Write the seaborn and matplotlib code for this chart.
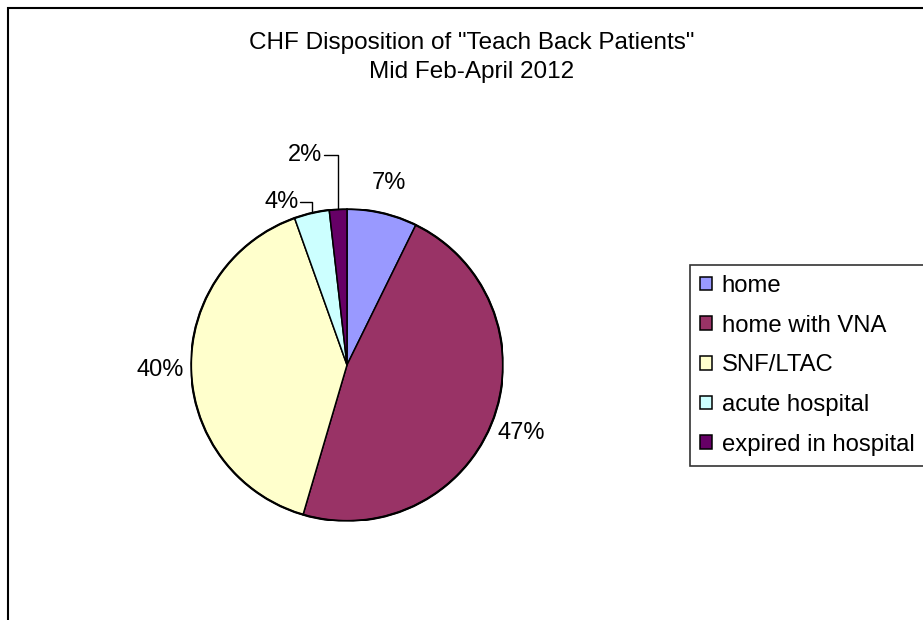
import matplotlib.pyplot as plt
import matplotlib.patches as mpatches
import seaborn as sns
import numpy as np

categories = ['home', 'home with VNA', 'SNF/LTAC', 'acute hospital', 'expired in hospital']
patients = [4, 26, 22, 2, 1]
pct_labels = ['7%', '47%', '40%', '4%', '2%']
colors = ['#9999FF', '#993366', '#FFFFCC', '#CCFFFF', '#660066']

sns.set_style('white')
plt.rcParams['font.family'] = ['Liberation Sans', 'DejaVu Sans']
plt.rcParams['text.color'] = 'black'

W, H = 923, 620
fig = plt.figure(figsize=(W / 100, H / 100), dpi=100)

# outer chart-area border (cropped on right and bottom)
fig.patches.append(mpatches.Rectangle((8 / W, -0.1), 1.2, 1.1 - 8 / H,
                                      transform=fig.transFigure, fill=False,
                                      edgecolor='black', linewidth=1.5))

fig.text(472 / W, 1 - 43 / H, 'CHF Disposition of "Teach Back Patients"',
         ha='center', va='center', fontsize=17.5)
fig.text(472 / W, 1 - 72 / H, 'Mid Feb-April 2012',
         ha='center', va='center', fontsize=17.5)

ax = fig.add_axes([191 / W, 1 - 521 / H, 312 / W, 312 / H])
wedges, _ = ax.pie(patients, colors=sns.color_palette(colors), startangle=90,
                   counterclock=False, radius=1,
                   wedgeprops=dict(edgecolor='black', linewidth=1.1))
ax.add_patch(mpatches.Circle((0, 0), 1, fill=False, edgecolor='black', linewidth=1.6))
ax.set_xlim(-1, 1)
ax.set_ylim(-1, 1)
ax.set_aspect('equal')
ax.axis('off')

for i, w in enumerate(wedges):
    mid = np.deg2rad((w.theta1 + w.theta2) / 2)
    ex, ey = np.cos(mid), np.sin(mid)
    if i < 3:
        r = 1.2
        ax.text(r * ex, r * ey, pct_labels[i], ha='center', va='center',
                fontsize=17, clip_on=False)
    else:
        ly = 1.045 if i == 3 else 1.345
        lx = ex - (0.075 if i == 3 else 0.09)
        ax.plot([lx, ex, ex], [ly, ly, ey], color='black', linewidth=1,
                clip_on=False)
        ax.text(lx - 0.01, ly, pct_labels[i], ha='right', va='center',
                fontsize=17, clip_on=False)

leg = fig.legend(wedges, categories, loc='upper left',
                 bbox_to_anchor=(690 / W, 1 - 265 / H), fontsize=17.2,
                 frameon=True, fancybox=False, edgecolor='black',
                 handlelength=0.5, handleheight=0.5, handletextpad=0.4,
                 labelspacing=0.74, borderpad=0.42, borderaxespad=0)
leg.get_frame().set_linewidth(1.2)

plt.savefig('out.png', dpi=100)
